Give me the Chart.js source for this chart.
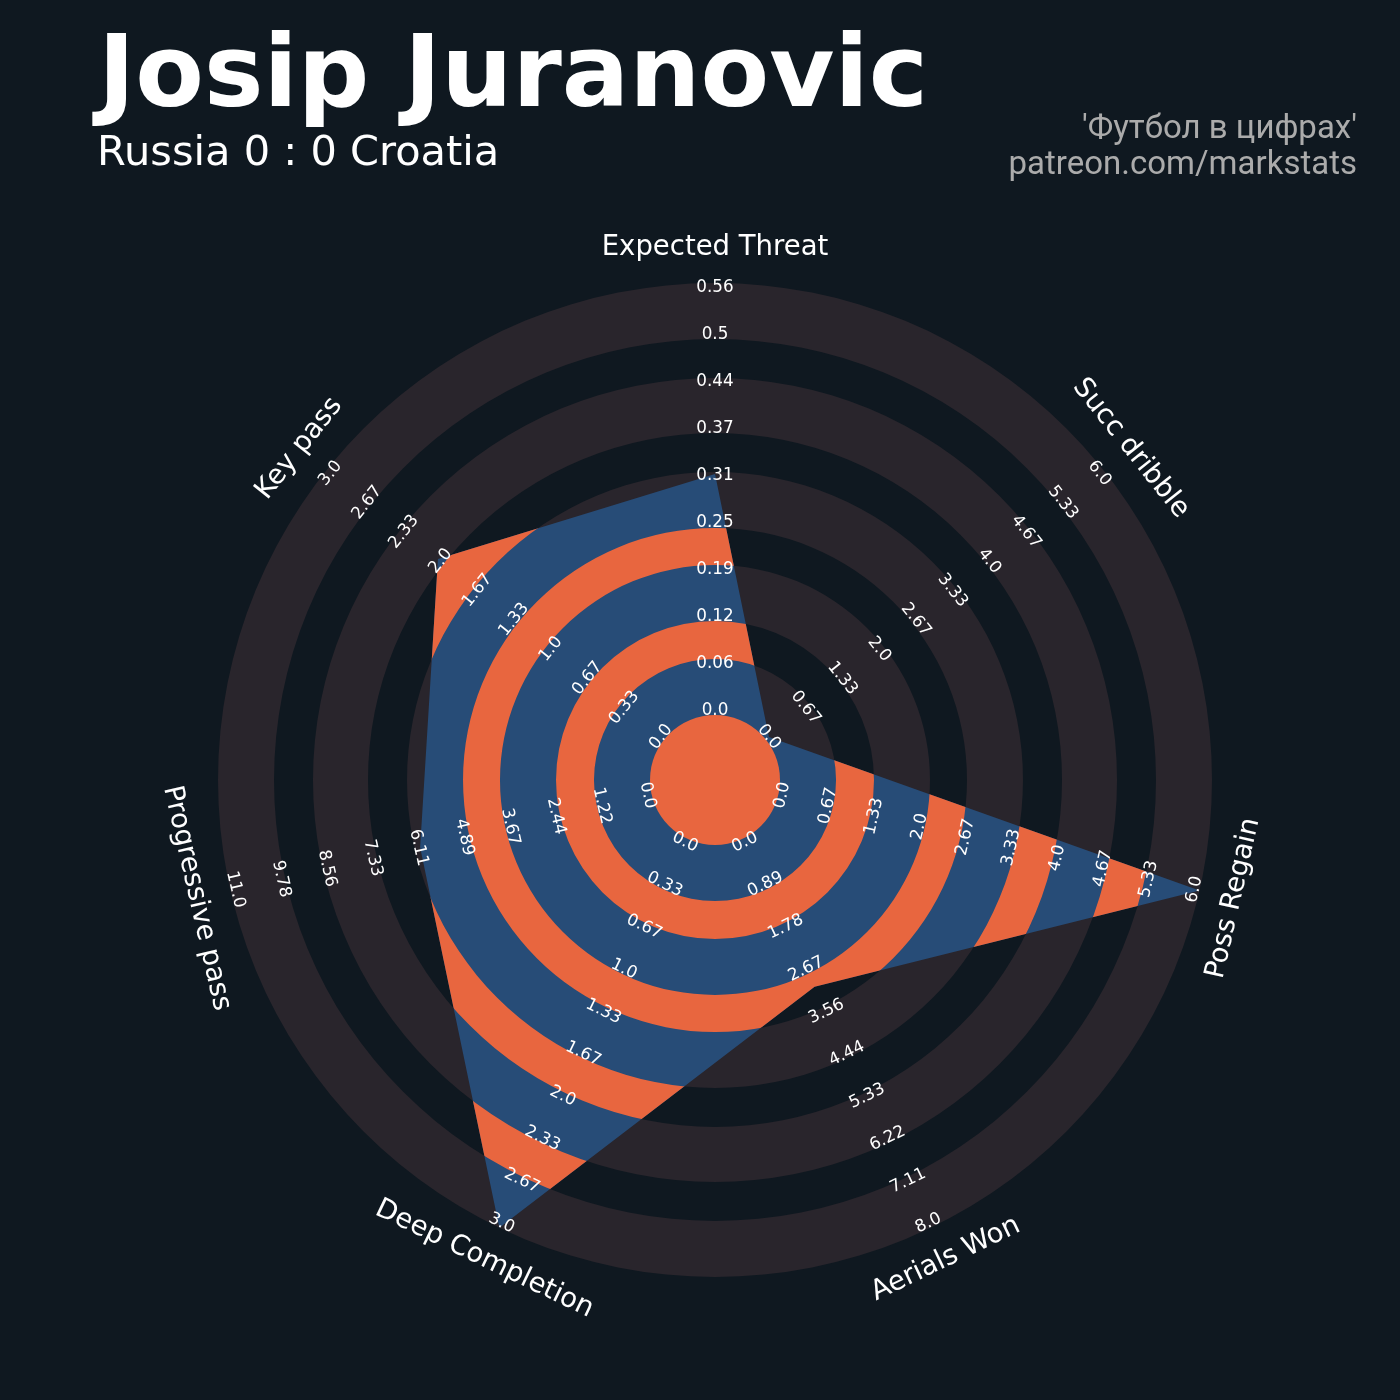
<!DOCTYPE html>
<html><head><meta charset="utf-8">
<script src="https://cdn.jsdelivr.net/npm/chart.js@4.4.1/dist/chart.umd.min.js"></script>
<style>
html,body{margin:0;padding:0;background:#0f1820;}
#wrap{position:relative;width:1400px;height:1400px;overflow:hidden;background:#0f1820;}
canvas{position:absolute;left:0;top:0;}
.t{position:absolute;white-space:nowrap;line-height:1;}
#title{left:98px;top:22px;font-family:'DejaVu Sans';font-weight:bold;font-size:100px;color:#ffffff;}
#sub{left:97px;top:130px;font-family:'DejaVu Sans';font-size:41.5px;color:#ffffff;}
#credit{right:43px;top:109px;font-family:Roboto;font-size:33px;line-height:36px;color:#ababab;text-align:right;}
</style></head>
<body>
<div id="wrap">
<canvas id="c" width="1400" height="1400"></canvas>
<div class="t" id="title">Josip Juranovic</div>
<div class="t" id="sub">Russia 0 : 0 Croatia</div>
<div class="t" id="credit">'Футбол в цифрах'<br>patreon.com/markstats</div>
</div>
<script>
// ---- data ----
const params = ['Expected Threat', 'Succ dribble', 'Poss Regain', 'Aerials Won', 'Deep Completion', 'Progressive pass', 'Key pass'];
const values = [0.31, 0, 6, 3, 3, 6, 2];
const lowRange = [0, 0, 0, 0, 0, 0, 0];
const highRange = [0.56, 6, 6, 8, 3, 11, 3];
const numTicks = 10;

// ---- styling ----
const COLORS = { bg: '#0f1820', ring: '#29252c', navy: '#274c77', orange: '#e8663f', text: '#ffffff' };
const RING_EDGES = [0.1308, 0.2435, 0.3199, 0.4326, 0.5070, 0.6197, 0.6982, 0.8089, 0.8873, 1.0];
const SCALE_MIN = -69 / 428;
const TICK_SPREAD = 0.988;
const LABEL_DIST = 1.070;

const norm = values.map((v, i) => (v - lowRange[i]) / (highRange[i] - lowRange[i]));

function fmt(v) {
  const r = Math.round(v * 100) / 100;
  let s = String(r);
  if (s.indexOf('.') < 0) s += '.0';
  return s;
}
function readableRot(i, n) {
  const th = i * 360 / n;
  let rot = th;
  if (th > 90 && th < 270) rot = th - 180;
  else if (th >= 270) rot = th - 360;
  return rot * Math.PI / 180;
}
function ring(ctx, cx, cy, r0, r1) {
  ctx.beginPath();
  ctx.arc(cx, cy, r1, 0, Math.PI * 2);
  ctx.arc(cx, cy, r0, 0, Math.PI * 2, true);
  ctx.closePath();
  ctx.fill();
}

const radarDeco = {
  id: 'radarDeco',
  beforeDraw(chart) {
    const ctx = chart.ctx;
    ctx.save();
    ctx.fillStyle = COLORS.bg;
    ctx.fillRect(0, 0, chart.width, chart.height);
    ctx.restore();
  },
  beforeDatasetsDraw(chart) {
    const s = chart.scales.r, ctx = chart.ctx, R = s.drawingArea;
    ctx.save();
    ctx.fillStyle = COLORS.ring;
    for (let i = 0; i < RING_EDGES.length - 1; i += 2) {
      ring(ctx, s.xCenter, s.yCenter, RING_EDGES[i] * R, RING_EDGES[i + 1] * R);
    }
    ctx.restore();
  },
  afterDatasetsDraw(chart) {
    const s = chart.scales.r, ctx = chart.ctx, R = s.drawingArea;
    const pts = chart.getDatasetMeta(0).data;
    ctx.save();
    ctx.beginPath();
    pts.forEach((p, i) => { if (i === 0) ctx.moveTo(p.x, p.y); else ctx.lineTo(p.x, p.y); });
    ctx.closePath();
    ctx.clip();
    ctx.fillStyle = COLORS.orange;
    for (let i = 1; i < RING_EDGES.length - 1; i += 2) {
      ring(ctx, s.xCenter, s.yCenter, RING_EDGES[i] * R, RING_EDGES[i + 1] * R);
    }
    ctx.restore();

    // center circle
    ctx.save();
    ctx.fillStyle = COLORS.orange;
    ctx.beginPath();
    ctx.arc(s.xCenter, s.yCenter, RING_EDGES[0] * R, 0, Math.PI * 2);
    ctx.fill();
    ctx.restore();

    const n = params.length;
    // tick labels
    ctx.save();
    ctx.fillStyle = COLORS.text;
    ctx.font = '16.8px "DejaVu Sans"';
    ctx.textAlign = 'center';
    ctx.textBaseline = 'middle';
    for (let i = 0; i < n; i++) {
      const rot = readableRot(i, n);
      for (let k = 0; k < numTicks; k++) {
        const frac = k / (numTicks - 1);
        const val = lowRange[i] + frac * (highRange[i] - lowRange[i]);
        const p = s.getPointPositionForValue(i, frac * TICK_SPREAD);
        ctx.save();
        ctx.translate(p.x, p.y);
        ctx.rotate(rot);
        ctx.fillText(fmt(val), 0, 0);
        ctx.restore();
      }
    }
    ctx.restore();

    // parameter labels
    ctx.save();
    ctx.fillStyle = COLORS.text;
    ctx.font = '27.5px "DejaVu Sans"';
    ctx.textAlign = 'center';
    ctx.textBaseline = 'middle';
    for (let i = 0; i < n; i++) {
      const p = s.getPointPosition(i, R * LABEL_DIST);
      ctx.save();
      ctx.translate(p.x, p.y);
      ctx.rotate(readableRot(i, n));
      ctx.fillText(params[i], 0, 0);
      ctx.restore();
    }
    ctx.restore();
  }
};

new Chart(document.getElementById('c'), {
  type: 'radar',
  data: {
    labels: params,
    datasets: [{
      data: norm,
      backgroundColor: COLORS.navy,
      borderWidth: 0,
      borderColor: 'rgba(0,0,0,0)',
      pointRadius: 0,
      pointHoverRadius: 0,
      fill: 'start',
      tension: 0
    }]
  },
  options: {
    responsive: false,
    animation: false,
    devicePixelRatio: 1,
    layout: { padding: { left: 218, top: 283, right: 188, bottom: 123 } },
    plugins: { legend: { display: false }, tooltip: { enabled: false } },
    scales: {
      r: {
        min: SCALE_MIN,
        max: 1,
        startAngle: 0,
        ticks: { display: false },
        grid: { display: false },
        angleLines: { display: false },
        pointLabels: { display: false }
      }
    }
  },
  plugins: [radarDeco]
});
</script>
</body></html>
